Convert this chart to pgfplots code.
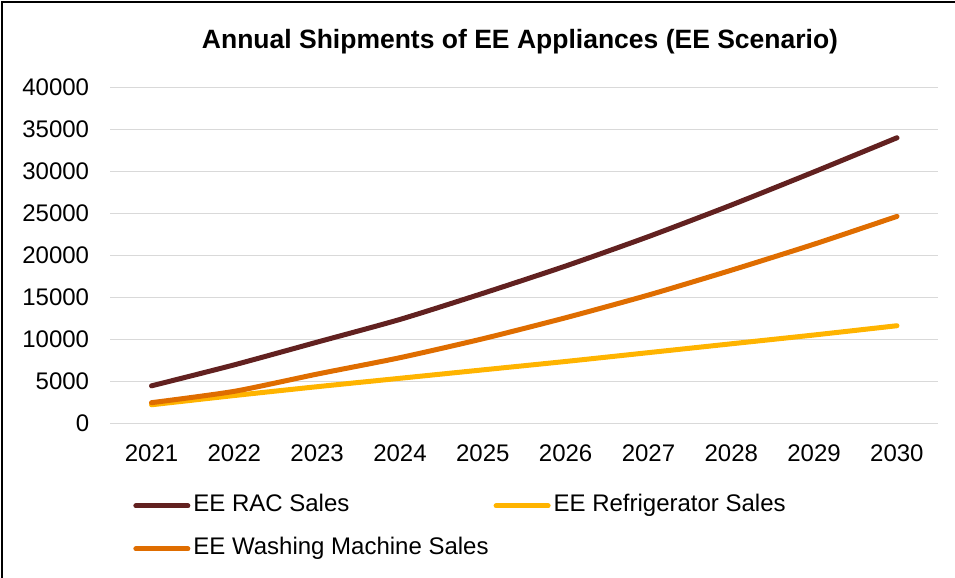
\documentclass[border=0pt]{standalone}
\usepackage{pgfplots}
\pgfplotsset{compat=1.18}
\usepackage{fontspec}
\setmainfont{Liberation Sans}
\definecolor{racc}{HTML}{622120}
\definecolor{wmc}{HTML}{DF6D00}
\definecolor{frc}{HTML}{FFB400}
\definecolor{gridgray}{HTML}{D9D9D9}
\begin{document}
\begin{tikzpicture}
\path[use as bounding box] (0pt,0pt) rectangle (477.5pt,289pt);
\draw[line width=1pt] (1pt,0pt) -- (1pt,288pt) -- (477.5pt,288pt);
\node[anchor=base, font=\fontsize{13.25}{16}\selectfont\bfseries] at (260pt,264.8pt) {Annual Shipments of EE Appliances (EE Scenario)};
\begin{axis}[
  at={(55.05pt,77.15pt)}, anchor=south west,
  scale only axis, width=414.15pt, height=168.2pt,
  xmin=2020.5, xmax=2030.5, ymin=0, ymax=40000,
  xtick={2021,2022,...,2030}, ytick={0,5000,...,40000},
  scaled y ticks=false,
  ymajorgrids, grid style={draw=gridgray, line width=0.75pt},
  axis line style={draw=none},
  major tick length=0pt, tick style={draw=none},
  /pgf/number format/1000 sep={},
  /pgf/number format/assume math mode=true,
  ticklabel style={font=\fontsize{12}{14}\selectfont},
  yticklabel style={anchor=east, inner sep=0pt, xshift=-10.3pt},
  xticklabel style={anchor=north, inner sep=0pt, yshift=-10.4pt},
  legend columns=2,
  legend cell align=left,
  legend style={at={(0.0276,-0.2078)}, anchor=north west, draw=none, fill=none,
    inner sep=0pt, row sep=9.5pt, font=\fontsize{12}{14}\selectfont,
    nodes={inner sep=0pt, text height=9pt, text depth=3pt},
    /tikz/every odd column/.append style={column sep=1.5pt},
    /tikz/every even column/.append style={column sep=2.5pt}},
  legend image code/.code={\draw[#1, line cap=round] (1.25pt,0pt) -- (27.25pt,0pt);},
  every axis plot/.append style={line width=2.5pt, line cap=round, line join=round, smooth, tension=0.4},
]
\addplot[racc] coordinates {(2021,4500) (2022,7000) (2023,9700) (2024,12400) (2025,15500) (2026,18750) (2027,22250) (2028,26000) (2029,29950) (2030,34000)};
\addlegendentry{EE RAC Sales}
\addplot[frc] coordinates {(2021,2250) (2022,3350) (2023,4400) (2024,5400) (2025,6400) (2026,7400) (2027,8450) (2028,9500) (2029,10550) (2030,11650)};
\addlegendentry{EE Refrigerator Sales}
\addplot[wmc] coordinates {(2021,2500) (2022,3850) (2023,5900) (2024,7850) (2025,10100) (2026,12600) (2027,15300) (2028,18250) (2029,21350) (2030,24650)};
\addlegendentry{EE Washing Machine Sales}
\end{axis}
\end{tikzpicture}
\end{document}
